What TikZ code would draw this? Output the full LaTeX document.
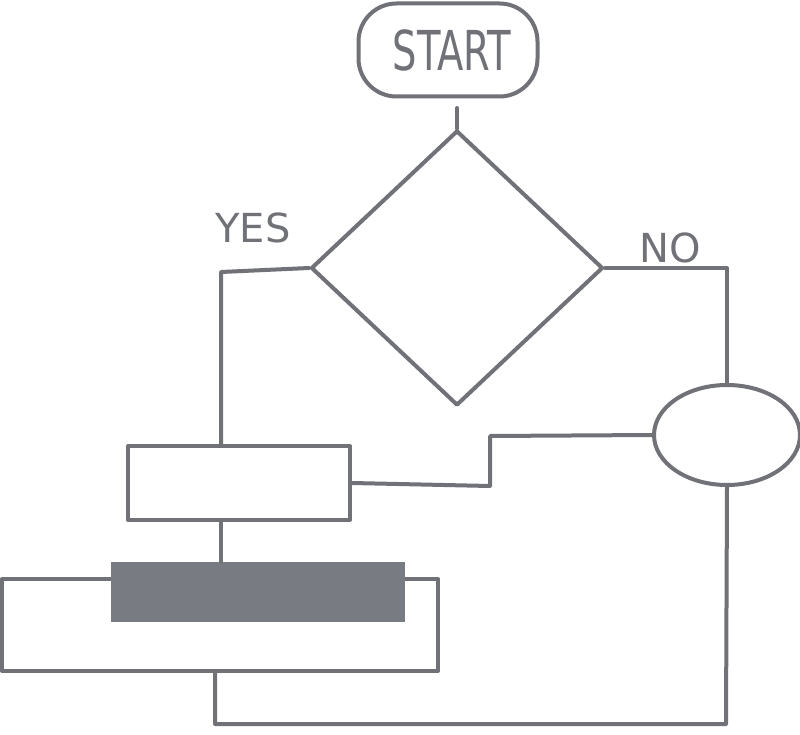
\documentclass[tikz,border=0pt]{standalone}
\usepackage{fontspec}
\setmainfont{DejaVu Sans}
\usetikzlibrary{shapes.geometric}
\definecolor{pen}{HTML}{707278}
\definecolor{ink}{HTML}{787B82}
\tikzset{
  line/.style={draw=pen, line width=4pt, line join=round, line cap=round},
  startbox/.style={line, rectangle, rounded corners=38pt, minimum width=179pt, minimum height=93pt, inner sep=0pt},
  decision/.style={line, diamond, minimum width=292pt, minimum height=275pt, inner sep=0pt},
  procbox/.style={line, rectangle, inner sep=0pt},
  darkbox/.style={fill=ink, draw=none, rectangle, inner sep=0pt},
  oval/.style={line, ellipse, minimum width=146pt, minimum height=100pt, inner sep=0pt},
  lbl/.style={text=pen, inner sep=0pt}
}
\begin{document}
\begin{tikzpicture}[x=1pt,y=-1pt]
\useasboundingbox[fill=white] (0,0) rectangle (800,735);
% nodes
\node[startbox] (start) at (448,50) {};
\node[lbl, font=\fontsize{55}{60}\selectfont] (starttext) at (452,50) {\scalebox{0.7}[1]{START}};
\node[decision] (dia) at (457,268) {};
\node[procbox, minimum width=222pt, minimum height=74pt] (box1) at (239,483) {};
\node[procbox, minimum width=436pt, minimum height=92pt] (big) at (220,625) {};
\node[darkbox, minimum width=294pt, minimum height=60pt] (dark) at (258,592) {};
\node[oval] (ell) at (727,435) {};
\node[lbl, font=\fontsize{40}{44}\selectfont] (yes) at (253,228) {YES};
\node[lbl, font=\fontsize{40}{44}\selectfont] (no) at (670,248) {NO};
% coordinates
\coordinate (stub) at (457,108);
\coordinate (yc) at (221,272);
\coordinate (s1) at (490,486);
\coordinate (s2) at (490,436);
\coordinate (bc) at (726,724);
\coordinate (bl) at (215,724);
% connectors
\draw[line] (dia.north) -- (stub);
\draw[line] (dia.west) -- (yc) -- (yc |- box1.north);
\draw[line] (box1.south -| yc) -- (dark.north -| yc);
\draw[line] (box1.east) -- (s1) -- (s2) -- (ell.west);
\draw[line] (dia.east) -| (ell.north);
\draw[line] (ell.south) -- (bc) -- (bl) -- (bl |- big.south);
\end{tikzpicture}
\end{document}
